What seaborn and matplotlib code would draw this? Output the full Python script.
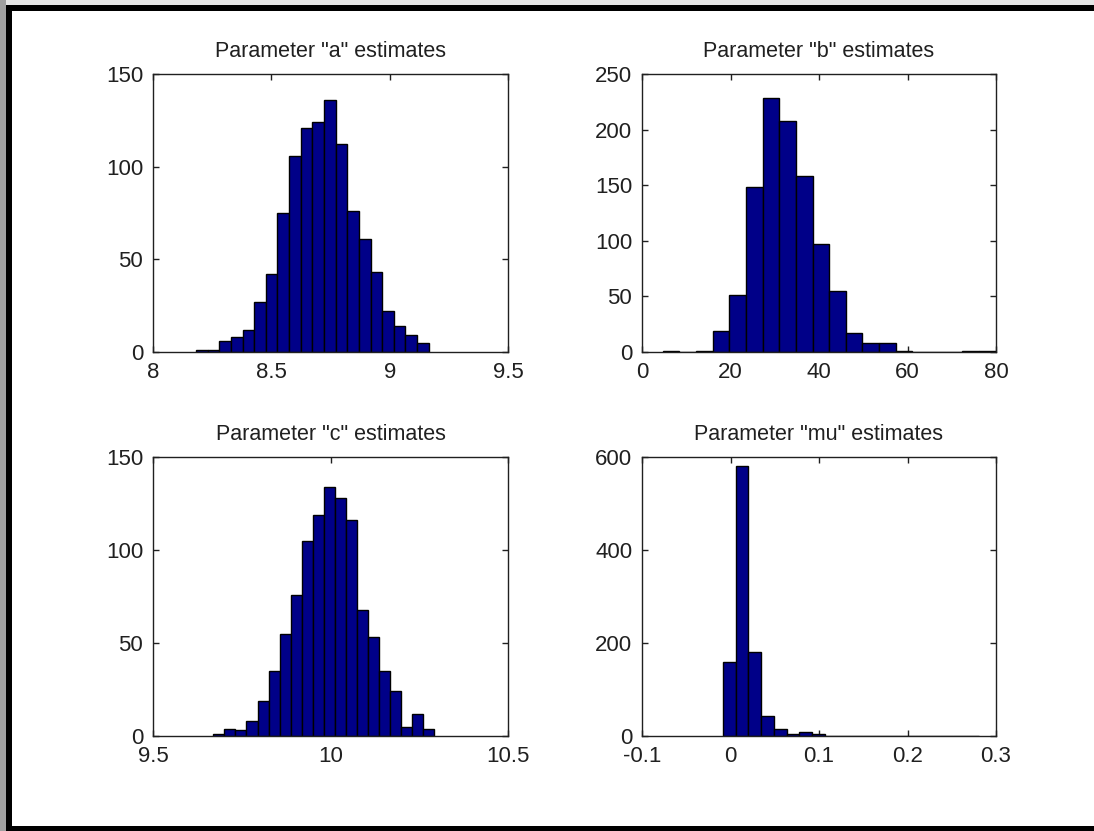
import numpy as np
import pandas as pd
import matplotlib
matplotlib.use("Agg")
import matplotlib.pyplot as plt
from matplotlib.patches import Rectangle
from matplotlib.ticker import FuncFormatter
import seaborn as sns

# ---------------- data ----------------
titles = ['Parameter "a" estimates', 'Parameter "b" estimates',
          'Parameter "c" estimates', 'Parameter "mu" estimates']

a_counts = [1, 1, 6, 8, 12, 27, 42, 75, 106, 121, 124, 136, 112, 76, 61, 43, 22, 14, 9, 5]
a_range = (8.182, 9.165)
b_counts = [1, 0, 1, 19, 51, 148, 228, 208, 158, 97, 55, 17, 8, 8, 1, 0, 0, 0, 1, 1]
b_range = (4.7, 79.9)
c_counts = [1, 4, 3, 8, 19, 35, 55, 76, 105, 119, 134, 128, 116, 68, 53, 35, 24, 5, 12, 4]
c_range = (9.670, 10.292)
mu_counts = [159, 581, 180, 42, 16, 4, 8, 5, 1, 0, 1, 0, 0, 0, 0, 1, 0, 0, 0, 1]
mu_range = (-0.0088, 0.2804)

a_xticks = [8, 8.5, 9, 9.5]
a_yticks = [0, 50, 100, 150]
b_xticks = [0, 20, 40, 60, 80]
b_yticks = [0, 50, 100, 150, 200, 250]
c_xticks = [9.5, 10, 10.5]
c_yticks = [0, 50, 100, 150]
mu_xticks = [-0.1, 0, 0.1, 0.2, 0.3]
mu_yticks = [0, 200, 400, 600]

panels = [
    (a_counts, a_range, a_xticks, a_yticks),
    (b_counts, b_range, b_xticks, b_yticks),
    (c_counts, c_range, c_xticks, c_yticks),
    (mu_counts, mu_range, mu_xticks, mu_yticks),
]

# ---------------- style ----------------
sns.set_style("white")
plt.rcParams['font.family'] = ['Liberation Sans', 'DejaVu Sans']
plt.rcParams['text.color'] = '#202020'

fig = plt.figure(figsize=(10.94, 8.31), dpi=100)
fig.patch.set_facecolor('white')

W, H = 1094, 831
# axes boxes in pixels: (left, top, right, bottom)
boxes = [(153, 74, 508, 352), (642, 74, 996, 352),
         (153, 457, 508, 736), (642, 457, 996, 736)]

fmt = FuncFormatter(lambda v, p: f"{v:g}")

for (counts, rng, xt, yt), title, (l, t, r, b) in zip(panels, titles, boxes):
    ax = fig.add_axes([l / W, 1 - b / H, (r - l) / W, (b - t) / H])
    counts = np.asarray(counts, dtype=float)
    nb = len(counts)
    width = (rng[1] - rng[0]) / nb
    centers = rng[0] + width * (np.arange(nb) + 0.5)
    df = pd.DataFrame({'x': centers, 'w': counts})
    sns.histplot(data=df, x='x', weights='w', bins=nb, binrange=rng, ax=ax,
                 color='#000088', edgecolor='black', linewidth=1.0, alpha=1.0)
    ax.set_xlim(xt[0], xt[-1])
    ax.set_ylim(yt[0], yt[-1])
    ax.set_xticks(xt)
    ax.set_yticks(yt)
    ax.xaxis.set_major_formatter(fmt)
    ax.yaxis.set_major_formatter(fmt)
    ax.set_xlabel('')
    ax.set_ylabel('')
    ax.set_title(title, fontsize=15.5, pad=12, color='#202020')
    ax.tick_params(direction='in', length=4, width=1, colors='#202020',
                   labelsize=16, top=True, right=True, bottom=True, left=True)
    ax.tick_params(axis='x', pad=7.5)
    ax.tick_params(axis='y', pad=7)
    for s in ax.spines.values():
        s.set_visible(True)
        s.set_color('#202020')
        s.set_linewidth(1.0)

# window frame around the figure
def px_rect(x0, y0, w, h, color):
    fig.patches.append(Rectangle((x0 / W, 1 - (y0 + h) / H), w / W, h / H,
                                 transform=fig.transFigure, facecolor=color,
                                 edgecolor='none', zorder=10))

px_rect(0, 0, W, 5, '#e6e6e6')
px_rect(0, 0, 6, H, '#a0a0a0')
px_rect(6, 5, W - 6, 6, 'black')
px_rect(6, 5, 6, H - 5, 'black')
px_rect(6, 826, W - 6, 5, 'black')

fig.savefig('out.png', dpi=100)
